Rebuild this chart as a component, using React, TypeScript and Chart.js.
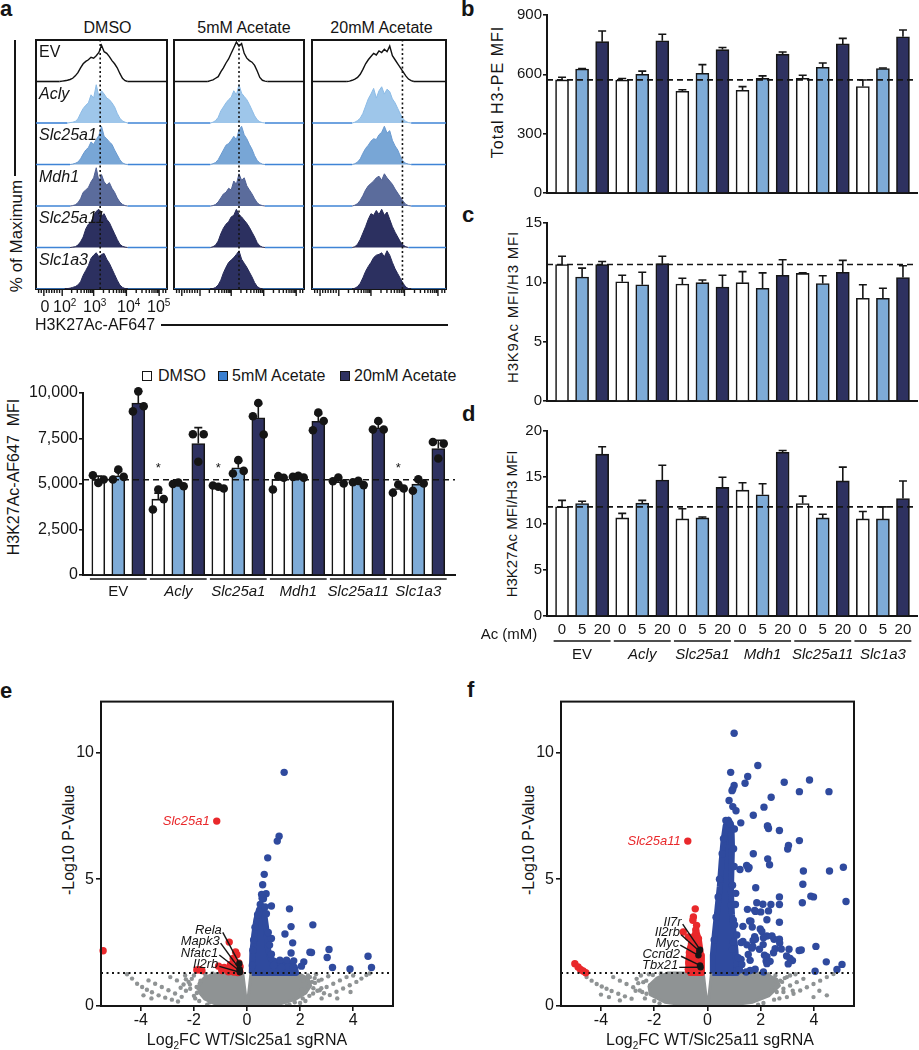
import React, { useEffect, useRef } from 'react';
import { Chart, registerables } from 'chart.js';

Chart.register(...registerables);

const FONT = "'Liberation Sans', Arial, Helvetica, sans-serif";
const INK = '#151515';
const BLUE = '#2f4a9e';
const GRAY = '#8f9394';
const RED = '#e9282b';
Chart.defaults.font.family = FONT;
Chart.defaults.color = INK;

// ---------------- shared categories ----------------
const GENES = ['EV', 'Acly', 'Slc25a1', 'Mdh1', 'Slc25a11', 'Slc1a3'];
const GENE_ITALIC = [false, true, true, true, true, true];
const TREATMENTS = ['DMSO', '5mM Acetate', '20mM Acetate'];
const AC_MM_TICKS = ['0', '5', '20'];

// ---------------- panel a: histograms (% of max per bin) ----------------
const HIST_X = [16, 18, 20, 22, 24, 26, 28, 30, 32, 34, 36, 38, 40, 42, 44, 46, 48, 50, 52, 54, 56, 58, 60, 62, 64, 66, 68, 70, 72, 74, 76, 78, 80];
const HIST_DMSO = [
  [0, 0, 1, 2, 3, 5, 8, 14, 22, 34, 44, 50, 54, 60, 58, 64, 72, 90, 74, 70, 62, 52, 44, 34, 20, 8, 2, 0, 0, 0, 0, 0, 0],
  [0, 0, 0, 0, 0, 1, 2, 4, 10, 24, 36, 44, 50, 70, 62, 95, 66, 80, 72, 62, 58, 50, 40, 24, 12, 5, 2, 0, 0, 0, 0, 0, 0],
  [0, 0, 0, 0, 0, 0, 1, 3, 6, 14, 26, 36, 42, 56, 50, 62, 72, 95, 70, 64, 56, 50, 36, 24, 12, 4, 1, 0, 0, 0, 0, 0, 0],
  [0, 0, 0, 0, 0, 0, 1, 3, 8, 18, 34, 40, 46, 60, 70, 95, 62, 78, 60, 52, 58, 44, 34, 20, 10, 4, 1, 0, 0, 0, 0, 0, 0],
  [0, 0, 0, 0, 0, 0, 1, 2, 6, 14, 26, 46, 58, 62, 80, 90, 95, 78, 84, 70, 62, 48, 34, 20, 8, 3, 1, 0, 0, 0, 0, 0, 0],
  [0, 0, 0, 0, 1, 2, 4, 6, 10, 18, 34, 46, 58, 76, 84, 90, 80, 86, 88, 74, 64, 50, 36, 22, 10, 4, 1, 0, 0, 0, 0, 0, 0],
];
const HIST_5MM = [
  [0, 0, 0, 0, 0, 0, 2, 4, 8, 12, 24, 34, 46, 56, 70, 84, 98, 88, 94, 70, 58, 52, 48, 40, 26, 10, 3, 1, 0, 0, 0, 0, 0],
  [0, 0, 0, 0, 0, 0, 0, 2, 6, 14, 30, 40, 50, 58, 64, 80, 70, 95, 74, 66, 58, 46, 32, 18, 8, 3, 1, 0, 0, 0, 0, 0, 0],
  [0, 0, 0, 0, 0, 0, 0, 2, 5, 12, 24, 36, 48, 52, 60, 70, 62, 86, 95, 74, 64, 50, 38, 22, 10, 4, 1, 0, 0, 0, 0, 0, 0],
  [0, 0, 0, 0, 0, 0, 0, 1, 4, 10, 20, 30, 34, 44, 40, 62, 54, 80, 64, 70, 50, 40, 30, 18, 8, 3, 1, 0, 0, 0, 0, 0, 0],
  [0, 0, 0, 0, 0, 0, 0, 2, 6, 16, 34, 48, 58, 64, 76, 80, 95, 82, 76, 68, 60, 50, 38, 26, 12, 4, 1, 0, 0, 0, 0, 0, 0],
  [0, 0, 0, 0, 0, 0, 0, 1, 4, 10, 22, 40, 54, 66, 72, 78, 86, 95, 74, 64, 54, 42, 30, 16, 6, 2, 0, 0, 0, 0, 0, 0, 0],
];
const HIST_20MM = [
  [0, 0, 0, 0, 0, 0, 1, 3, 6, 10, 18, 30, 44, 54, 62, 70, 66, 76, 72, 80, 74, 88, 64, 54, 44, 34, 24, 14, 6, 2, 0, 0, 0],
  [0, 0, 0, 0, 0, 0, 0, 0, 2, 6, 12, 24, 42, 60, 72, 86, 62, 80, 90, 72, 84, 78, 60, 50, 36, 22, 10, 4, 1, 0, 0, 0, 0],
  [0, 0, 0, 0, 0, 0, 0, 0, 2, 6, 14, 28, 40, 48, 58, 64, 62, 74, 80, 95, 78, 84, 60, 46, 36, 20, 8, 3, 1, 0, 0, 0, 0],
  [0, 0, 0, 0, 0, 0, 0, 0, 2, 6, 14, 26, 40, 50, 56, 62, 70, 74, 64, 80, 70, 62, 54, 42, 32, 22, 12, 4, 1, 0, 0, 0, 0],
  [0, 0, 0, 0, 0, 0, 0, 0, 2, 8, 20, 36, 52, 70, 84, 80, 92, 82, 95, 80, 88, 70, 52, 38, 26, 14, 6, 2, 0, 0, 0, 0, 0],
  [0, 0, 0, 0, 0, 0, 0, 0, 2, 6, 14, 28, 44, 56, 66, 78, 84, 86, 90, 80, 95, 84, 66, 50, 38, 26, 14, 5, 1, 0, 0, 0, 0],
];
const HIST_PANELS = [HIST_DMSO, HIST_5MM, HIST_20MM];
const HIST_DOTTED = [49, 50, 67.5];
const HIST_MAJOR_TICKS = [6, 20, 44, 69, 94];
const HIST_MINOR_TICKS = [2, 4, 8, 10, 12, 14, 16, 18, 27.2, 31.5, 34.4, 36.8, 38.7, 40.3, 41.7, 42.9, 51.5, 55.9, 59.1, 61.5, 63.5, 65.1, 66.6, 67.9, 76.5, 80.9, 84.1, 86.5, 88.5, 90.1, 91.6, 92.9, 97, 99];
const HIST_TICK_BASE = ['0', '10', '10', '10', '10'];
const HIST_TICK_EXP = ['', '2', '3', '4', '5'];

// ---------------- panel a: bar chart ----------------
const A_MEAN_DMSO = [5250, 4170, 4810, 5250, 5120, 4750];
const A_MEAN_5MM = [5450, 4940, 5890, 5390, 5060, 4990];
const A_MEAN_20MM = [9450, 7220, 8630, 8450, 8080, 6950];
const A_SD_DMSO = [180, 330, 90, 200, 130, 200];
const A_SD_5MM = [250, 110, 360, 60, 90, 210];
const A_SD_20MM = [650, 880, 770, 400, 320, 450];
const A_PTS_DMSO = [[5480, 5250, 5060], [3600, 4170, 4700], [4920, 4750, 4850], [4700, 5340, 5430], [5150, 5030, 5360], [4520, 4750, 4970]];
const A_PTS_5MM = [[5250, 5390, 5790], [5000, 4880, 5080], [5580, 5720, 6310], [5390, 5350, 5450], [5100, 4940, 5170], [4630, 5030, 5260]];
const A_PTS_20MM = [[8990, 9270, 10090], [7730, 7730, 6220], [8720, 7720, 9450], [7950, 8460, 8920], [7990, 7990, 8460], [7310, 7220, 6400]];
const A_REF = 5230;
const A_SIGNIF = ['', '*', '*', '', '', '*'];
const A_SIGNIF_LEVEL = 5870;

// ---------------- panel b ----------------
const B_MEAN_DMSO = [572, 571, 514, 519, 580, 538];
const B_MEAN_5MM = [627, 600, 605, 580, 636, 629];
const B_MEAN_20MM = [765, 770, 725, 702, 754, 790];
const B_SD_DMSO = [13, 8, 8, 19, 15, 33];
const B_SD_5MM = [2, 16, 44, 12, 21, 3];
const B_SD_20MM = [54, 33, 11, 11, 28, 34];
const B_REF = 572;

// ---------------- panel c ----------------
const C_MEAN_DMSO = [11.5, 10.05, 9.86, 9.97, 10.75, 8.65];
const C_MEAN_5MM = [10.45, 9.8, 9.97, 9.5, 9.9, 8.65];
const C_MEAN_20MM = [11.5, 11.57, 9.6, 10.6, 10.85, 10.4];
const C_SD_DMSO = [0.7, 0.55, 0.49, 0.93, 0.05, 1.15];
const C_SD_5MM = [0.75, 1.05, 0.23, 1.3, 0.65, 0.85];
const C_SD_20MM = [0.25, 0.63, 1.0, 1.3, 1.0, 1.0];
const C_REF = 11.5;

// ---------------- panel d ----------------
const D_MEAN_DMSO = [11.8, 10.6, 10.5, 13.6, 12.16, 10.5];
const D_MEAN_5MM = [12.16, 12.2, 10.6, 13.1, 10.6, 10.5];
const D_MEAN_20MM = [17.5, 14.7, 13.9, 17.7, 14.6, 12.7];
const D_SD_DMSO = [0.7, 0.5, 1.1, 0.8, 0.8, 0.8];
const D_SD_5MM = [0.25, 0.3, 0.1, 1.2, 0.4, 1.3];
const D_SD_20MM = [0.8, 1.6, 1.1, 0.2, 1.5, 1.9];
const D_REF = 11.8;

// ---------------- volcano plots (log2FC, -log10 P) ----------------
const P_THRESH = 1.3;
const FC_MIN = -5.5;
const FC_MAX = 5.5;

const E_GRAY_CORE = [-1.85, 0.6, -1.8, 0.9, -1.6, 1.12, -1.3, 1.25, -0.8, 1.3, -0.16, 1.3, -0.03, 0.2, 0.03, 0.2, 0.15, 1.3, 1.2, 1.3, 1.95, 1.28, 2.3, 1.08, 2.4, 0.8, 2.2, 0.5, 1.8, 0.25, 1.2, 0.07, 0.4, 0.0, -0.5, 0.0, -1.2, 0.08, -1.6, 0.28, -1.85, 0.6];
const E_GRAY_PTS = [
  -4.52, 1.25, -4.33, 1.08, -4.14, 0.88, -3.95, 0.75, -3.77, 0.64, -3.58, 0.54, -3.33, 0.42, -3.08, 0.33, -2.83, 0.25,
  -3.71, 1.01, -3.46, 0.88, -3.21, 0.75, -2.96, 0.62, -2.71, 0.49, -2.46, 0.36,
  -2.89, 1.14, -2.64, 1.01, -2.39, 0.85, -2.14, 0.68, -1.89, 0.51,
  -2.33, 1.2, -2.08, 1.07, -1.77, 0.9, -3.9, 0.42, -3.6, 0.3, -2.6, 0.18,
  4.62, 1.28, 4.5, 1.22, 4.31, 1.08, 4.12, 0.95, 3.87, 0.82, 3.62, 0.69, 3.37, 0.56, 3.12, 0.43, 2.81, 0.3,
  3.75, 1.14, 3.5, 1.01, 3.25, 0.88, 3.0, 0.75, 2.74, 0.62, 2.49, 0.49,
  3.06, 1.17, 2.81, 1.04, 2.56, 0.91, 2.31, 0.78, 2.06, 0.65,
  2.37, 1.14, 2.12, 1.01, 3.9, 0.55, 3.4, 0.3, 4.0, 1.2,
  -2.2, 0.95, -2.0, 1.2, -1.6, 1.28, -2.3, 0.6, -2.5, 0.72, -1.5, 0.05, -1.0, 0.02, 2.7, 1.0, 2.8, 0.7, 2.6, 1.25,
  2.2, 0.2, 2.9, 0.5, 1.6, 0.05, -1.3, 1.28, 1.0, 0.0, -0.8, 1.28,
  -2.0, 0.4, -1.9, 0.75, -1.75, 1.0, -1.55, 1.18, -2.15, 0.85, -1.8, 0.2, -1.4, 0.15, 2.3, 1.2, 2.45, 0.95, 2.5, 0.7,
  2.35, 0.4, 2.1, 0.3, 1.8, 0.15, 2.55, 1.1, 2.2, 0.55, 1.5, 0.02, -2.3, 1.05, 2.65, 0.6, -1.95, 0.3, 2.0, 0.12,
];
const E_BLUE_CORE = [0.18, 1.3, 0.2, 2.1, 0.27, 2.8, 0.35, 3.4, 0.45, 3.8, 0.56, 3.85, 0.66, 3.55, 0.72, 3.1, 0.76, 2.6, 0.8, 2.2, 0.9, 1.85, 1.2, 1.7, 1.55, 1.72, 1.8, 1.55, 1.85, 1.3, 0.18, 1.3];
const E_BLUE_PTS = [
  1.4, 9.21, 1.21, 6.69, 1.14, 6.5, 0.78, 5.84, 0.65, 5.19, 0.59, 4.78, 0.72, 4.43, 0.62, 4.23, 0.57, 4.25, 0.92, 3.94,
  1.6, 3.83, 0.73, 3.64, 2.48, 3.2, 1.66, 3.13, 1.43, 2.84, 0.92, 2.66, 1.72, 2.49, 3.09, 2.23, 2.37, 2.12, 2.43, 2.11,
  1.66, 2.09, 0.92, 2.04, 3.02, 1.91, 4.56, 1.96, 1.24, 1.81, 1.49, 1.81, 1.76, 1.78, 2.14, 1.74, 2.05, 1.57, 3.22, 1.52,
  4.69, 1.52, 3.88, 1.46, 1.0, 1.6, 1.55, 1.55, 1.73, 1.52, 1.3, 1.52, 0.5, 4.0, 0.4, 3.6, 0.3, 3.1, 0.25, 2.6,
  0.68, 3.9, 0.8, 2.9, 0.85, 2.4, 0.2, 1.6, 0.22, 2.2, 0.55, 4.4,
];
const E_RED_PTS = [-5.42, 2.18, -1.14, 7.29, -0.67, 2.52, -0.43, 2.13, -0.38, 2.02, -0.31, 1.7, -0.26, 1.55, -0.64, 1.55, -0.86, 1.52, -1.07, 1.57, -1.78, 1.43, -1.89, 1.42, -1.7, 1.4, -0.45, 1.4, -0.27, 1.36, -0.52, 1.87, -0.4, 1.55, -0.62, 1.64, -0.5, 1.34, -0.35, 1.32, -0.95, 1.4, -0.7, 1.35];
const E_GENES = ['Rela', 'Mapk3', 'Nfatc1', 'Il2rb'];
const E_GENE_FC = [-0.29, -0.28, -0.27, -0.27];
const E_GENE_P = [1.68, 1.45, 1.38, 1.33];
const E_LABEL_FC = [-0.95, -1.03, -1.08, -1.08];
const E_LABEL_P = [2.98, 2.56, 2.09, 1.64];
const E_TARGET = 'Slc25a1';
const E_TARGET_FC = -1.14;
const E_TARGET_P = 7.29;

const F_GRAY_CORE = [-2.2, 0.8, -1.9, 1.1, -1.5, 1.3, -0.16, 1.3, -0.03, 0.15, 0.03, 0.15, 0.15, 1.3, 2.1, 1.3, 2.6, 1.05, 2.7, 0.8, 2.3, 0.4, 1.7, 0.15, 0.6, 0.0, -0.6, 0.0, -1.6, 0.15, -2.15, 0.45, -2.2, 0.8];
const F_GRAY_PTS = [
  -4.54, 1.14, -4.35, 1.0, -4.16, 0.87, -3.97, 0.77, -3.79, 0.68, -3.6, 0.59, -3.35, 0.48, -3.1, 0.38, -2.85, 0.29,
  -3.54, 1.14, -3.29, 1.0, -3.04, 0.87, -2.79, 0.74, -2.54, 0.61, -2.29, 0.48,
  -2.66, 1.07, -2.41, 0.94, -2.16, 0.81, -3.29, 0.22, -4.0, 0.45, -3.7, 0.35,
  4.73, 1.26, 4.48, 1.14, 4.23, 1.0, 3.98, 0.87, 3.73, 0.74, 3.48, 0.61, 3.23, 0.48, 2.98, 0.35,
  3.6, 1.07, 3.35, 0.94, 3.1, 0.81, 2.85, 0.68, 2.6, 0.55,
  2.98, 1.14, 2.73, 1.0, 2.48, 0.87, 3.98, 0.35, 4.48, 0.42, 4.2, 0.6,
  -2.6, 0.9, -2.5, 1.2, -2.2, 1.25, -2.7, 0.6, -1.8, 0.1, -1.1, 0.02, 3.1, 1.2, 3.2, 0.6, 2.7, 0.3, 1.9, 0.05, 3.3, 1.25,
  -2.35, 0.3, -2.3, 1.0, -2.05, 1.22, -1.75, 1.28, 2.3, 1.25, 2.55, 1.2, 2.8, 0.95, 2.85, 0.55, 2.5, 0.25, 2.1, 0.12,
  -2.45, 0.55, -2.0, 0.2, 2.9, 1.1, 2.4, 0.6,
];
const F_BLUE_CORE = [0.18, 1.3, 0.2, 2.0, 0.28, 2.9, 0.38, 3.9, 0.46, 4.7, 0.53, 5.7, 0.6, 6.5, 0.68, 7.1, 0.8, 7.35, 0.9, 7.1, 0.92, 6.3, 0.9, 5.4, 0.88, 4.5, 0.92, 3.6, 0.98, 2.9, 1.05, 2.2, 1.1, 1.3, 0.18, 1.3];
const F_BLUE_PTS = [
  1.0, 10.75, 1.89, 9.48, 0.87, 9.21, 1.51, 9.05, 1.41, 8.78, 1.0, 8.69, 0.95, 8.55, 0.92, 8.49, 2.88, 8.82, 3.83, 8.91,
  3.45, 8.45, 4.56, 8.45, 2.39, 8.23, 2.12, 7.84, 0.81, 8.1, 0.95, 7.86, 1.07, 7.7, 0.69, 7.31, 0.85, 7.18, 1.25, 7.22,
  2.26, 7.09, 2.29, 7.0, 2.7, 6.92, 1.01, 6.98, 3.45, 6.52, 3.04, 6.33, 3.01, 6.19, 1.72, 6.0, 2.26, 5.8, 2.33, 5.57,
  1.47, 5.54, 1.53, 5.41, 1.22, 5.38, 3.6, 5.32, 4.58, 5.32, 5.1, 5.47, 3.58, 4.8, 1.81, 4.66, 0.94, 4.76, 1.06, 4.44,
  2.7, 4.3, 3.88, 4.33, 3.98, 4.3, 5.2, 4.12, 3.56, 4.07, 2.38, 4.0, 2.29, 3.75, 1.85, 4.07, 1.5, 3.81, 1.77, 3.77,
  2.7, 4.0, 0.89, 3.97, 0.97, 3.38, 1.58, 3.35, 2.23, 3.4, 2.7, 3.3, 1.68, 3.11, 1.98, 3.04, 2.04, 2.94, 1.33, 3.14,
  4.07, 2.35, 3.06, 2.24, 3.44, 2.19, 3.52, 2.21, 2.23, 2.76, 2.42, 2.76, 1.77, 2.73, 1.71, 2.58, 1.33, 2.54, 1.48, 2.41,
  1.66, 2.28, 0.97, 2.51, 0.93, 2.24, 1.95, 2.24, 2.54, 2.26, 2.48, 2.1, 2.14, 2.0, 2.23, 1.94, 1.53, 2.03, 1.6, 1.8,
  1.26, 1.84, 1.29, 1.64, 2.97, 1.97, 3.1, 1.87, 4.46, 1.74, 5.05, 1.64, 4.86, 1.44, 4.04, 1.37, 1.1, 1.4, 1.2, 1.42,
  1.79, 1.45, 2.35, 1.76, 3.19, 1.79, 3.03, 1.66, 2.7, 2.63, 2.5, 2.63, 2.1, 2.69, 2.09, 2.42, 1.8, 2.63, 1.7, 2.34,
  1.26, 2.5, 2.71, 2.48, 2.77, 2.25, 2.2, 1.77, 2.23, 1.67, 1.45, 1.34, 1.6, 1.4, 2.1, 1.34, 2.0, 3.71, 1.8, 3.73,
  1.63, 3.34, 2.08, 4.01, 1.56, 5.46, 1.72, 7.52, 2.25, 7.1, 0.6, 6.6, 0.55, 6.0, 0.45, 5.0, 0.4, 4.3, 0.32, 3.5,
  0.25, 2.6, 1.0, 5.5, 0.98, 6.2, 1.05, 4.0, 1.02, 3.2, 1.1, 2.8, 1.15, 1.9,
];
const F_RED_CORE = [-0.72, 1.3, -0.72, 1.85, -0.66, 2.3, -0.52, 2.75, -0.42, 2.95, -0.32, 2.6, -0.24, 2.0, -0.21, 1.3, -0.72, 1.3];
const F_RED_PTS = [-4.98, 1.67, -4.86, 1.54, -4.77, 1.44, -4.67, 1.38, -4.57, 1.31, -0.74, 6.5, -0.46, 3.83, -0.53, 3.51, -0.55, 3.38, -0.91, 2.92, -0.41, 3.18, -0.44, 3.0, -0.34, 2.65, -0.72, 2.72, -0.6, 2.46, -0.39, 2.33, -0.68, 2.1, -0.7, 1.7, -0.72, 1.45, -0.65, 1.35, -0.25, 1.35, -0.3, 1.9, -0.5, 2.2];
const F_GENES = ['Il7r', 'Il2rb', 'Myc', 'Ccnd2', 'Tbx21'];
const F_GENE_FC = [-0.28, -0.31, -0.34, -0.28, -0.26];
const F_GENE_P = [2.22, 2.17, 2.0, 1.6, 1.53];
const F_LABEL_FC = [-0.97, -1.03, -1.06, -1.03, -1.1];
const F_LABEL_P = [3.31, 2.89, 2.48, 2.04, 1.6];
const F_TARGET = 'Slc25a11';
const F_TARGET_FC = -0.74;
const F_TARGET_P = 6.5;

// ---------------- styling ----------------
const SERIES_FILL = ['#ffffff', '#7eabd7', '#2e3160'];
const LEGEND_FILL = ['#ffffff', '#3a7fd0', '#2e3160'];
const ROW_FILL = ['rgba(255,255,255,0)', '#9ec6ea', '#78a6d6', '#5b6c9c', '#2c3060', '#2c3060'];
const ROW_EDGE = ['#111111', '#8cbbe6', '#6a9ad0', '#4f6094', '#262a58', '#262a58'];
const ROW_BASE = ['#111111', '#3f84d6', '#3f84d6', '#3f84d6', '#3f84d6', '#3f84d6'];
const DOT_JITTER = [-0.27, 0.27, 0];

const pairs = (a: number[]) => {
  const out: { x: number; y: number }[] = [];
  for (let i = 0; i < a.length; i += 2) out.push({ x: a[i], y: a[i + 1] });
  return out;
};
const fontStr = (size: number, italic = false, bold = false) => `${italic ? 'italic ' : ''}${bold ? 'bold ' : ''}${size}px ${FONT}`;

// ---------------- histogram config ----------------
function histConfig(col: number) {
  const panel = HIST_PANELS[col];
  const datasets: any[] = [];
  panel.forEach((h, i) => {
    const base = 5 - i;
    const data = [{ x: 0, y: base }, ...HIST_X.map((x, k) => ({ x, y: base + (h[k] / 100) * 0.97 })), { x: 100, y: base }];
    datasets.push({
      type: 'line',
      data,
      fill: { value: base },
      backgroundColor: ROW_FILL[i],
      borderColor: ROW_EDGE[i],
      borderWidth: 1,
      pointRadius: 0,
      tension: 0,
      order: 2,
      segment: {
        borderColor: (c: any) => (c.p0.parsed.y === base && c.p1.parsed.y === base ? ROW_BASE[i] : ROW_EDGE[i]),
        borderWidth: (c: any) => (c.p0.parsed.y === base && c.p1.parsed.y === base ? 1.6 : i === 0 ? 1.4 : 1),
      },
    });
  });
  datasets.push({
    type: 'line',
    data: [{ x: HIST_DOTTED[col], y: 0 }, { x: HIST_DOTTED[col], y: 6 }],
    borderColor: INK,
    borderWidth: 1.6,
    borderDash: [2, 2.5],
    pointRadius: 0,
    order: 0,
  });
  const plugin = {
    id: 'histDecor' + col,
    beforeDatasetsDraw(chart: any) {
      const { ctx, chartArea: a } = chart;
      ctx.save();
      ctx.strokeStyle = INK;
      ctx.lineWidth = 2;
      ctx.strokeRect(a.left, a.top, a.right - a.left, a.bottom - a.top);
      ctx.restore();
    },
    afterDraw(chart: any) {
      const { ctx, chartArea: a, scales } = chart;
      const xs = scales.x;
      const ys = scales.y;
      ctx.save();
      ctx.strokeStyle = INK;
      ctx.lineWidth = 1.4;
      ctx.beginPath();
      HIST_MAJOR_TICKS.forEach((t) => {
        const x = xs.getPixelForValue(t);
        ctx.moveTo(x, a.bottom + 1);
        ctx.lineTo(x, a.bottom + 7);
      });
      HIST_MINOR_TICKS.forEach((t) => {
        const x = xs.getPixelForValue(t);
        ctx.moveTo(x, a.bottom + 1);
        ctx.lineTo(x, a.bottom + 4);
      });
      ctx.stroke();
      if (col === 0) {
        ctx.fillStyle = INK;
        ctx.textAlign = 'left';
        ctx.textBaseline = 'middle';
        GENES.forEach((g, i) => {
          ctx.font = fontStr(16, GENE_ITALIC[i]);
          ctx.fillText(g, a.left + 3, ys.getPixelForValue(6 - i) + 13);
        });
      }
      ctx.restore();
    },
  };
  return {
    type: 'line',
    data: { datasets },
    options: {
      animation: false,
      responsive: false,
      events: [],
      layout: { padding: { left: 4, right: 4, top: 4, bottom: 12 } },
      scales: {
        x: { type: 'linear', min: 0, max: 100, display: false },
        y: { type: 'linear', min: 0, max: 6, display: false },
      },
      plugins: { legend: { display: false }, tooltip: { enabled: false } },
    },
    plugins: [plugin],
  };
}

// ---------------- grouped bar config ----------------
function barConfig(p: any) {
  const datasets: any[] = [];
  for (let s = 0; s < 3; s++) {
    datasets.push({
      type: 'bar',
      label: TREATMENTS[s],
      data: GENES.map((_, g) => ({ x: g * 3 + s, y: p.means[s][g] })),
      backgroundColor: SERIES_FILL[s],
      borderColor: INK,
      borderWidth: 1.6,
      barThickness: 13,
      grouped: false,
      order: 3,
    });
  }
  datasets.push({
    type: 'line',
    data: [{ x: p.xMin, y: p.ref }, { x: p.xMax, y: p.ref }],
    borderColor: INK,
    borderWidth: 1.6,
    borderDash: [6, 4],
    pointRadius: 0,
    order: 1,
  });
  if (p.dots) {
    const pts: any[] = [];
    for (let s = 0; s < 3; s++)
      GENES.forEach((_, g) => p.dots[s][g].forEach((v: number, k: number) => pts.push({ x: g * 3 + s + DOT_JITTER[k], y: v })));
    datasets.push({ type: 'scatter', data: pts, pointRadius: 4.3, backgroundColor: INK, borderWidth: 0, order: 0, clip: false });
  }
  const plugin = {
    id: 'barDecor',
    afterDatasetDraw(chart: any, args: any) {
      const s = args.index;
      if (s > 2) return;
      const { ctx, scales } = chart;
      ctx.save();
      ctx.strokeStyle = INK;
      ctx.lineWidth = 1.6;
      ctx.beginPath();
      GENES.forEach((_, g) => {
        const m = p.means[s][g];
        const x = scales.x.getPixelForValue(g * 3 + s);
        const y0 = scales.y.getPixelForValue(m);
        const y1 = scales.y.getPixelForValue(m + p.sds[s][g]);
        ctx.moveTo(x, y0);
        ctx.lineTo(x, y1);
        ctx.moveTo(x - 4, y1);
        ctx.lineTo(x + 4, y1);
      });
      ctx.stroke();
      ctx.restore();
    },
    afterDraw(chart: any) {
      const { ctx, scales, chartArea: a } = chart;
      ctx.save();
      ctx.fillStyle = INK;
      ctx.strokeStyle = INK;
      ctx.lineWidth = 1.5;
      ctx.textAlign = 'center';
      ctx.textBaseline = 'middle';
      if (p.groups) {
        GENES.forEach((gname, g) => {
          const x0 = scales.x.getPixelForValue(g * 3 - 0.42);
          const x1 = scales.x.getPixelForValue(g * 3 + 2.42);
          ctx.beginPath();
          ctx.moveTo(x0, a.bottom + p.lineDy);
          ctx.lineTo(x1, a.bottom + p.lineDy);
          ctx.stroke();
          ctx.font = fontStr(p.groupSize, GENE_ITALIC[g]);
          ctx.fillText(gname, (x0 + x1) / 2, a.bottom + p.labelDy);
        });
      }
      if (p.signif) {
        ctx.font = fontStr(13);
        p.signif.forEach((sym: string, g: number) => {
          if (!sym) return;
          ctx.fillText(sym, scales.x.getPixelForValue(g * 3), scales.y.getPixelForValue(A_SIGNIF_LEVEL));
        });
      }
      ctx.restore();
    },
  };
  return {
    type: 'bar',
    data: { datasets },
    options: {
      animation: false,
      responsive: false,
      events: [],
      layout: { padding: { left: 0, right: p.padRight, top: p.padTop, bottom: 0 } },
      scales: {
        x: {
          type: 'linear',
          min: p.xMin,
          max: p.xMax,
          offset: false,
          grid: { display: false, drawTicks: false },
          border: { display: true, color: INK, width: 2 },
          ticks: p.acTicks
            ? { display: true, autoSkip: false, maxRotation: 0, padding: 5, font: { size: 15 }, color: INK, callback: (v: number) => AC_MM_TICKS[Math.round(v) % 3] }
            : { display: false },
          afterBuildTicks: p.acTicks
            ? (sc: any) => {
                sc.ticks = GENES.flatMap((_, g) => [0, 1, 2].map((s) => ({ value: g * 3 + s })));
              }
            : undefined,
          afterFit: (sc: any) => {
            sc.height = p.hx;
          },
        },
        y: {
          type: 'linear',
          min: 0,
          max: p.yMax,
          ticks: { stepSize: p.yStep, font: { size: p.tickSize }, color: INK, padding: 1, callback: p.yFmt },
          grid: { drawOnChartArea: false, drawTicks: true, tickLength: 4, color: INK, lineWidth: 1.6 },
          border: { display: true, color: INK, width: 2 },
          afterFit: (sc: any) => {
            sc.width = p.wy;
          },
        },
      },
      plugins: { legend: { display: false }, tooltip: { enabled: false } },
    },
    plugins: [plugin],
  };
}

// ---------------- volcano config ----------------
function volcanoConfig(v: any) {
  const core = (arr: number[], color: string, order: number, w: number) => ({
    type: 'line',
    data: pairs(arr),
    fill: 'shape',
    backgroundColor: color,
    borderColor: color,
    borderWidth: w,
    borderJoinStyle: 'round',
    pointRadius: 0,
    tension: 0,
    order,
  });
  const datasets: any[] = [
    { type: 'line', data: [{ x: FC_MIN, y: P_THRESH }, { x: FC_MAX, y: P_THRESH }], borderColor: INK, borderWidth: 1.8, borderDash: [2, 3.5], pointRadius: 0, order: 0 },
    { type: 'scatter', data: v.geneFc.map((x: number, i: number) => ({ x, y: v.geneP[i] })), pointRadius: 3.2, backgroundColor: INK, borderWidth: 0, order: 1, clip: false },
    { type: 'scatter', data: pairs(v.red), pointRadius: 3.7, backgroundColor: RED, borderWidth: 0, order: 2, clip: false },
    { type: 'scatter', data: pairs(v.blue), pointRadius: 3.7, backgroundColor: BLUE, borderWidth: 0, order: 4, clip: false },
    core(v.blueCore, BLUE, 5, 6),
    { type: 'scatter', data: pairs(v.gray), pointRadius: 2.2, backgroundColor: GRAY, borderWidth: 0, order: 6 },
    core(v.grayCore, GRAY, 7, 3),
  ];
  if (v.redCore) datasets.push(core(v.redCore, RED, 3, 6));
  const plugin = {
    id: 'volcanoDecor',
    afterDatasetsDraw(chart: any) {
      const { ctx, scales, chartArea: a } = chart;
      const xs = scales.x;
      const ys = scales.y;
      ctx.save();
      ctx.font = fontStr(13, true);
      ctx.textAlign = 'right';
      ctx.textBaseline = 'middle';
      v.genes.forEach((n: string, i: number) => {
        const tx = xs.getPixelForValue(v.labelFc[i]);
        const ty = ys.getPixelForValue(v.labelP[i]);
        ctx.fillStyle = INK;
        ctx.fillText(n, tx, ty);
        ctx.strokeStyle = INK;
        ctx.lineWidth = 1.4;
        ctx.beginPath();
        ctx.moveTo(tx + 1, ty + 2);
        ctx.lineTo(xs.getPixelForValue(v.geneFc[i]), ys.getPixelForValue(v.geneP[i]));
        ctx.stroke();
      });
      ctx.fillStyle = RED;
      ctx.fillText(v.target, xs.getPixelForValue(v.targetFc) - 7, ys.getPixelForValue(v.targetP));
      ctx.strokeStyle = INK;
      ctx.lineWidth = 2;
      ctx.strokeRect(a.left, a.top, a.right - a.left, a.bottom - a.top);
      ctx.restore();
    },
  };
  return {
    type: 'scatter',
    data: { datasets },
    options: {
      animation: false,
      responsive: false,
      events: [],
      layout: { padding: { left: 0, right: v.padRight, top: 11, bottom: 0 } },
      scales: {
        x: {
          type: 'linear',
          min: FC_MIN,
          max: FC_MAX,
          ticks: { stepSize: 2, includeBounds: false, font: { size: 16 }, color: INK, padding: 0 },
          grid: { drawOnChartArea: false, drawTicks: true, tickLength: 5, color: INK, lineWidth: 1.6 },
          border: { display: true, color: INK, width: 2 },
          afterFit: (sc: any) => {
            sc.height = 30;
          },
        },
        y: {
          type: 'linear',
          min: 0,
          max: 12,
          ticks: { stepSize: 5, includeBounds: false, font: { size: 16 }, color: INK, padding: 2 },
          grid: { drawOnChartArea: false, drawTicks: true, tickLength: 5, color: INK, lineWidth: 1.6 },
          border: { display: true, color: INK, width: 2 },
          afterFit: (sc: any) => {
            sc.width = 61;
          },
        },
      },
      plugins: { legend: { display: false }, tooltip: { enabled: false } },
    },
    plugins: [plugin],
  };
}

// ---------------- components ----------------
function ChartCanvas({ left, top, width, height, make }: any) {
  const ref = useRef<HTMLCanvasElement>(null);
  useEffect(() => {
    const chart = new Chart(ref.current as HTMLCanvasElement, make());
    return () => chart.destroy();
  }, []);
  return <canvas ref={ref} width={width} height={height} style={{ position: 'absolute', left, top, width, height }} />;
}

function Txt({ x, y, size = 16, rot = false, anchor = 'center', italic = false, bold = false, color = INK, spacing = 0, children }: any) {
  const tx = anchor === 'center' ? '-50%' : anchor === 'right' ? '-100%' : '0';
  return (
    <div
      style={{
        position: 'absolute',
        left: x,
        top: y,
        transform: `translate(${tx},-50%)${rot ? ' rotate(-90deg)' : ''}`,
        transformOrigin: rot ? '50% 50%' : undefined,
        fontSize: size,
        lineHeight: 1,
        fontStyle: italic ? 'italic' : 'normal',
        fontWeight: bold ? 'bold' : 'normal',
        whiteSpace: 'pre',
        color,
        letterSpacing: spacing,
      }}
    >
      {children}
    </div>
  );
}

function Letter({ x, baseline, children }: any) {
  return (
    <div style={{ position: 'absolute', left: x, top: baseline - 18.6, fontSize: 22, lineHeight: '22px', fontWeight: 'bold', color: INK }}>{children}</div>
  );
}

const Line = ({ x, y, w, h }: any) => <div style={{ position: 'absolute', left: x, top: y, width: w, height: h, background: INK }} />;

const Sub2 = () => <span style={{ fontSize: 10, position: 'relative', top: 4 }}>2</span>;

export default function App() {
  const histPos = [
    { left: 32, w: 139 },
    { left: 170, w: 138 },
    { left: 308, w: 142 },
  ];
  const histTitleX = [107.5, 244, 381.5];
  const histLabelLeft = [45, 53, 83, 117, 147];

  return (
    <div style={{ position: 'absolute', left: 0, top: 0, width: 919, height: 1050, background: '#fff', fontFamily: FONT, color: INK, overflow: 'hidden' }}>
      {/* panel letters */}
      <Letter x={0} baseline={17}>a</Letter>
      <Letter x={461} baseline={17}>b</Letter>
      <Letter x={462} baseline={223}>c</Letter>
      <Letter x={462} baseline={422}>d</Letter>
      <Letter x={0} baseline={699}>e</Letter>
      <Letter x={467} baseline={698}>f</Letter>

      {/* histograms */}
      {TREATMENTS.map((t, i) => (
        <Txt key={t} x={histTitleX[i]} y={28} size={16}>
          {t}
        </Txt>
      ))}
      {histPos.map((p, i) => (
        <ChartCanvas key={'h' + i} left={p.left} top={36} width={p.w} height={265} make={() => histConfig(i)} />
      ))}
      <Line x={14} y={40} w={1.5} h={136} />
      <Txt x={16} y={236} size={17} rot>
        % of Maximum
      </Txt>
      {HIST_TICK_BASE.map((b, i) => (
        <div key={'tl' + i} style={{ position: 'absolute', left: i === 0 ? histLabelLeft[i] - 4.5 : histLabelLeft[i], top: 299, fontSize: 16, lineHeight: 1 }}>
          {b}
          {HIST_TICK_EXP[i] && <span style={{ fontSize: 10, position: 'relative', top: -6 }}>{HIST_TICK_EXP[i]}</span>}
        </div>
      ))}
      <Txt x={35} y={325} size={16} anchor="left">
        H3K27Ac-AF647
      </Txt>
      <Line x={161} y={324.25} w={287} h={1.5} />

      {/* panel a bar chart */}
      {TREATMENTS.map((t, i) => (
        <React.Fragment key={'lg' + i}>
          <div
            style={{
              position: 'absolute',
              left: [142, 218, 340][i],
              top: 371,
              width: 10,
              height: 10,
              boxSizing: 'border-box',
              border: `1.5px solid ${INK}`,
              background: LEGEND_FILL[i],
            }}
          />
          <Txt x={[158, 232, 354][i]} y={376} size={16} anchor="left">
            {t}
          </Txt>
        </React.Fragment>
      ))}
      <Txt x={14} y={477} size={16} rot>
        {'H3K27Ac-AF647  MFI'}
      </Txt>
      <ChartCanvas
        left={0}
        top={380}
        width={462}
        height={225}
        make={() =>
          barConfig({
            means: [A_MEAN_DMSO, A_MEAN_5MM, A_MEAN_20MM],
            sds: [A_SD_DMSO, A_SD_5MM, A_SD_20MM],
            dots: [A_PTS_DMSO, A_PTS_5MM, A_PTS_20MM],
            ref: A_REF,
            signif: A_SIGNIF,
            yMax: 10000,
            yStep: 2500,
            yFmt: (v: number) => Number(v).toLocaleString('en-US'),
            tickSize: 16,
            wy: 83,
            hx: 30,
            padTop: 13,
            padRight: 7,
            xMin: -0.765,
            xMax: 17.835,
            groups: true,
            lineDy: 4,
            labelDy: 17,
            groupSize: 15,
          })
        }
      />

      {/* panel b */}
      <Txt x={498} y={92} size={16} rot spacing={1}>
        Total H3-PE MFI
      </Txt>
      <ChartCanvas
        left={470}
        top={5}
        width={449}
        height={198}
        make={() =>
          barConfig({
            means: [B_MEAN_DMSO, B_MEAN_5MM, B_MEAN_20MM],
            sds: [B_SD_DMSO, B_SD_5MM, B_SD_20MM],
            ref: B_REF,
            yMax: 900,
            yStep: 300,
            tickSize: 15,
            wy: 77,
            hx: 3,
            padTop: 10,
            padRight: 2,
            xMin: -0.75,
            xMax: 17.7,
          })
        }
      />

      {/* panel c */}
      <Txt x={512} y={307} size={15} rot spacing={0.8}>
        H3K9Ac MFI/H3 MFI
      </Txt>
      <ChartCanvas
        left={470}
        top={213}
        width={449}
        height={198}
        make={() =>
          barConfig({
            means: [C_MEAN_DMSO, C_MEAN_5MM, C_MEAN_20MM],
            sds: [C_SD_DMSO, C_SD_5MM, C_SD_20MM],
            ref: C_REF,
            yMax: 15,
            yStep: 5,
            tickSize: 15,
            wy: 77,
            hx: 3,
            padTop: 10,
            padRight: 2,
            xMin: -0.75,
            xMax: 17.7,
          })
        }
      />

      {/* panel d */}
      <Txt x={511} y={524} size={15} rot>
        H3K27Ac MFI/H3 MFI
      </Txt>
      <ChartCanvas
        left={470}
        top={421}
        width={449}
        height={247}
        make={() =>
          barConfig({
            means: [D_MEAN_DMSO, D_MEAN_5MM, D_MEAN_20MM],
            sds: [D_SD_DMSO, D_SD_5MM, D_SD_20MM],
            ref: D_REF,
            yMax: 20,
            yStep: 5,
            tickSize: 15,
            wy: 77,
            hx: 52,
            padTop: 10,
            padRight: 2,
            xMin: -0.75,
            xMax: 17.7,
            acTicks: true,
            groups: true,
            lineDy: 25,
            labelDy: 39,
            groupSize: 15,
          })
        }
      />
      <Txt x={509} y={633} size={15}>
        Ac (mM)
      </Txt>

      {/* panel e */}
      <Txt x={68.5} y={840} size={16} rot>
        -Log10 P-Value
      </Txt>
      <ChartCanvas
        left={40}
        top={690}
        width={360}
        height={346}
        make={() =>
          volcanoConfig({
            gray: E_GRAY_PTS,
            grayCore: E_GRAY_CORE,
            blue: E_BLUE_PTS,
            blueCore: E_BLUE_CORE,
            red: E_RED_PTS,
            genes: E_GENES,
            geneFc: E_GENE_FC,
            geneP: E_GENE_P,
            labelFc: E_LABEL_FC,
            labelP: E_LABEL_P,
            target: E_TARGET,
            targetFc: E_TARGET_FC,
            targetP: E_TARGET_P,
            padRight: 7,
          })
        }
      />
      <Txt x={247} y={1040} size={16}>
        <span>
          Log
          <Sub2 />
          FC WT/Slc25a1 sgRNA
        </span>
      </Txt>

      {/* panel f */}
      <Txt x={528.5} y={840} size={16} rot>
        -Log10 P-Value
      </Txt>
      <ChartCanvas
        left={500}
        top={690}
        width={360}
        height={346}
        make={() =>
          volcanoConfig({
            gray: F_GRAY_PTS,
            grayCore: F_GRAY_CORE,
            blue: F_BLUE_PTS,
            blueCore: F_BLUE_CORE,
            red: F_RED_PTS,
            redCore: F_RED_CORE,
            genes: F_GENES,
            geneFc: F_GENE_FC,
            geneP: F_GENE_P,
            labelFc: F_LABEL_FC,
            labelP: F_LABEL_P,
            target: F_TARGET,
            targetFc: F_TARGET_FC,
            targetP: F_TARGET_P,
            padRight: 6,
          })
        }
      />
      <Txt x={710} y={1040} size={16}>
        <span>
          Log
          <Sub2 />
          FC WT/Slc25a11 sgRNA
        </span>
      </Txt>
    </div>
  );
}
